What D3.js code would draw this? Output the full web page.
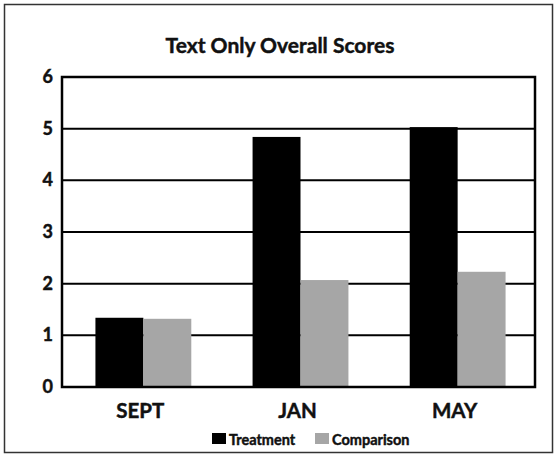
<!DOCTYPE html>
<html>
<head>
<meta charset="utf-8">
<script src="https://cdn.jsdelivr.net/npm/d3@7"></script>
<style>
  body { margin: 0; background: #fff; }
  text { font-family: Lato, "Open Sans", sans-serif; font-weight: bold; fill: #111; stroke: #111; stroke-width: 0.45px; }
</style>
</head>
<body>
<svg id="chart" width="557" height="457"></svg>
<script>
// data
var months = ['SEPT', 'JAN', 'MAY'];
var seriesNames = ['Treatment', 'Comparison'];
var treatment = [1.34, 4.84, 5.03];
var comparison = [1.32, 2.07, 2.23];
var yTicks = [0, 1, 2, 3, 4, 5, 6];

var colors = ['#000000', '#a6a6a6'];

var svg = d3.select('#chart');
var margin = {left: 62, right: 22, top: 77, bottom: 70};
var width = 557, height = 457;

// outer frame
svg.append('rect')
    .attr('x', 4.5).attr('y', 4.5)
    .attr('width', width - 9).attr('height', height - 9)
    .attr('fill', 'none')
    .attr('stroke', '#333')
    .attr('stroke-width', 1.5);

svg.append('text')
    .attr('x', 280).attr('y', 53)
    .attr('text-anchor', 'middle')
    .style('font-size', '21px')
    .text('Text Only Overall Scores');

var x = d3.scaleBand()
    .domain(months)
    .range([margin.left + 2, width - margin.right + 2])
    .paddingInner(0.39)
    .paddingOuter(0.2);

var xSub = d3.scaleBand()
    .domain(seriesNames)
    .range([0, x.bandwidth()]);

var y = d3.scaleLinear()
    .domain([0, 6])
    .range([height - margin.bottom, margin.top]);

// gridlines
svg.append('g')
    .selectAll('line')
    .data(yTicks.slice(1, -1))
    .join('line')
    .attr('x1', margin.left).attr('x2', width - margin.right)
    .attr('y1', d => y(d)).attr('y2', d => y(d))
    .attr('stroke', '#000')
    .attr('stroke-width', 2);

// bars
var rows = months.map((m, i) => ({month: m, values: [treatment[i], comparison[i]]}));
svg.append('g')
    .selectAll('g')
    .data(rows)
    .join('g')
    .attr('transform', d => `translate(${x(d.month)},0)`)
    .selectAll('rect')
    .data(d => d.values.map((v, j) => ({name: seriesNames[j], value: v, color: colors[j]})))
    .join('rect')
    .attr('x', d => xSub(d.name))
    .attr('width', xSub.bandwidth())
    .attr('y', d => y(d.value))
    .attr('height', d => y(0) - y(d.value))
    .attr('fill', d => d.color);

// plot frame
svg.append('rect')
    .attr('x', margin.left).attr('y', y(6))
    .attr('width', width - margin.left - margin.right)
    .attr('height', y(0) - y(6))
    .attr('fill', 'none')
    .attr('stroke', '#000')
    .attr('stroke-width', 2.5);

// y tick labels
svg.append('g')
    .selectAll('text')
    .data(yTicks)
    .join('text')
    .attr('x', margin.left - 9)
    .attr('y', d => y(d) + 6)
    .attr('text-anchor', 'end')
    .style('font-size', '18px')
    .text(d => d);

// x labels
svg.append('g')
    .selectAll('text')
    .data(months)
    .join('text')
    .attr('x', d => x(d) + x.bandwidth() / 2 - 3)
    .attr('y', 418)
    .attr('text-anchor', 'middle')
    .style('font-size', '20.5px')
    .text(d => d);

// legend
var legendX = [212, 315];
var legend = svg.append('g')
    .selectAll('g')
    .data(seriesNames)
    .join('g')
    .attr('transform', (d, i) => `translate(${legendX[i]},433)`);
legend.append('rect')
    .attr('width', 14).attr('height', 11)
    .attr('fill', (d, i) => colors[i]);
legend.append('text')
    .attr('x', 17).attr('y', 11.5)
    .style('font-size', '14.5px')
    .text(d => d);
</script>
</body>
</html>
